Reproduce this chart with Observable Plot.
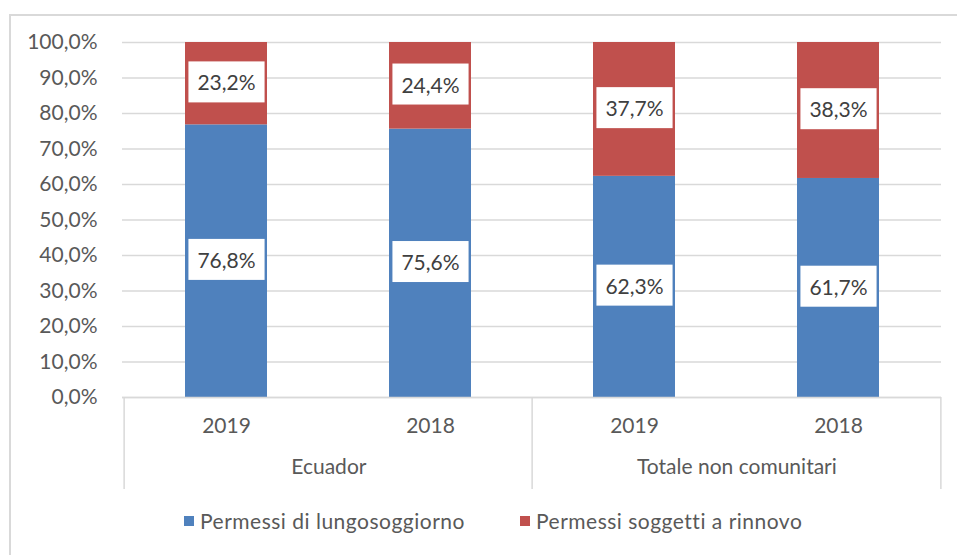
<!DOCTYPE html>
<html>
<head>
<meta charset="utf-8">
<script src="https://cdn.jsdelivr.net/npm/d3@7"></script>
<script src="https://cdn.jsdelivr.net/npm/@observablehq/plot@0.6"></script>
<style>
  html, body { margin: 0; padding: 0; background: #fff; width: 957px; height: 555px; overflow: hidden; }
  #frame { position: absolute; left: 9px; top: 14px; width: 960px; height: 560px; border-left: 2px solid #d9d9d9; border-top: 2px solid #d9d9d9; box-sizing: border-box; }
  #chart { position: absolute; left: 0; top: 0; }
  #legend { position: absolute; left: 0; top: 508px; width: 957px; height: 30px; font-family: Lato, "Open Sans", sans-serif; font-size: 21px; color: #595959; white-space: nowrap; }
  #legend .item { position: absolute; top: 0; display: flex; align-items: center; letter-spacing: 0.5px; }
  #legend .sw { width: 10px; height: 10px; margin-right: 6px; display: inline-block; }
</style>
</head>
<body>
<div id="frame"></div>
<div id="chart"></div>
<div id="legend"></div>
<script>
const groups = ["Ecuador", "Ecuador", "Totale non comunitari", "Totale non comunitari"];
const years = ["2019", "2018", "2019", "2018"];
const lungo = [76.8, 75.6, 62.3, 61.7];
const rinnovo = [23.2, 24.4, 37.7, 38.3];
const seriesNames = ["Permessi di lungosoggiorno", "Permessi soggetti a rinnovo"];
const seriesColors = ["#4F81BD", "#C0504D"];
const yTicks = [0, 10, 20, 30, 40, 50, 60, 70, 80, 90, 100];

const keys = groups.map((g, i) => g + "|" + years[i]);
const rows = [];
keys.forEach((k, i) => {
  rows.push({ key: k, series: seriesNames[0], value: lungo[i] });
  rows.push({ key: k, series: seriesNames[1], value: rinnovo[i] });
});
const groupNames = [...new Set(groups)];
const groupFirstKey = groupNames.map(g => keys[groups.indexOf(g)]);

const W = 957, H = 500, mL = 122, mR = 16, mT = 42, mB = 103;
const step = (W - mL - mR) / keys.length;
const fmt = v => v.toFixed(1).replace(".", ",") + "%";
const gridColor = "#d9d9d9";
const FS = 21;

const chart = Plot.plot({
  width: W, height: H,
  marginLeft: mL, marginRight: mR, marginTop: mT, marginBottom: mB,
  style: { fontFamily: "Lato, 'Open Sans', sans-serif", fontSize: FS + "px", color: "#595959", background: "transparent", overflow: "visible" },
  x: { domain: keys, paddingInner: 0.6, paddingOuter: 0.3, axis: null },
  y: { domain: [0, 100], axis: null },
  color: { domain: seriesNames, range: seriesColors },
  marks: [
    Plot.gridY(yTicks, { stroke: gridColor, strokeOpacity: 1, strokeWidth: 1.3 }),
    Plot.axisY(yTicks, { tickSize: 0, tickPadding: 25, tickFormat: fmt, fill: "#595959", fontSize: FS, label: null }),
    Plot.axisX({ tickSize: 0, tickPadding: 21, tickFormat: k => k.split("|")[1], fill: "#595959", fontSize: FS, label: null }),
    Plot.barY(rows, { x: "key", y: "value", fill: "series" }),
    Plot.ruleY([0], { stroke: gridColor, strokeWidth: 1.5 }),
    Plot.ruleX(groupFirstKey, { dx: -step / 2, insetTop: H - mT - mB, insetBottom: -92, stroke: gridColor, strokeWidth: 1.5 }),
    Plot.ruleX([keys[keys.length - 1]], { dx: step / 2, insetTop: H - mT - mB, insetBottom: -92, stroke: gridColor, strokeWidth: 1.5 }),
    Plot.text(groupNames, { x: (g, i) => groupFirstKey[i], text: d => d, dx: step / 2, frameAnchor: "bottom", dy: 76, fill: "#595959", fontSize: FS }),
    Plot.text(rows, Plot.stackY({ x: "key", y: "value", z: "series", text: d => fmt(d.value), fill: "#404040", fontSize: FS, ariaDescription: "value-labels" }))
  ]
});
document.getElementById("chart").append(chart);

// white boxes behind value labels
chart.querySelectorAll('g[aria-description="value-labels"] text').forEach(t => {
  const b = t.getBBox();
  const r = document.createElementNS("http://www.w3.org/2000/svg", "rect");
  const padX = 9, padY = 8;
  r.setAttribute("x", b.x - padX);
  r.setAttribute("y", b.y - padY);
  r.setAttribute("width", b.width + 2 * padX);
  r.setAttribute("height", b.height + 2 * padY);
  r.setAttribute("fill", "#fff");
  if (t.getAttribute("transform")) r.setAttribute("transform", t.getAttribute("transform"));
  t.parentNode.insertBefore(r, t);
});

const legend = document.getElementById("legend");
const legendLeft = [184, 520];
seriesNames.forEach((s, i) => {
  const it = document.createElement("span");
  it.className = "item";
  it.style.left = legendLeft[i] + "px";
  it.innerHTML = `<span class="sw" style="background:${seriesColors[i]}"></span>${s}`;
  legend.append(it);
});
</script>
</body>
</html>
